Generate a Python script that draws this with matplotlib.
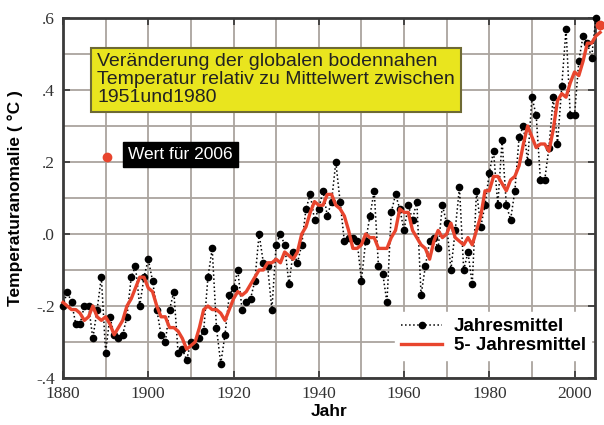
import matplotlib
matplotlib.use("Agg")
import matplotlib.pyplot as plt
from matplotlib.ticker import MultipleLocator
from matplotlib.lines import Line2D

# annual means 1880-2005 (deg C, relative to 1951-1980)
years = list(range(1880, 2006))
annual = [
    -0.20, -0.16, -0.19, -0.25, -0.25, -0.20, -0.20, -0.29, -0.21, -0.12,
    -0.33, -0.23, -0.28, -0.29, -0.28, -0.23, -0.12, -0.09, -0.20, -0.12,
    -0.07, -0.13, -0.21, -0.28, -0.30, -0.21, -0.16, -0.33, -0.32, -0.35,
    -0.30, -0.31, -0.29, -0.27, -0.12, -0.04, -0.26, -0.36, -0.28, -0.17,
    -0.15, -0.10, -0.21, -0.19, -0.18, -0.13, 0.00, -0.08, -0.09, -0.21,
    -0.03, 0.00, -0.03, -0.14, -0.05, -0.08, -0.03, 0.07, 0.11, 0.04,
    0.07, 0.12, 0.05, 0.09, 0.20, 0.09, -0.02, -0.01, -0.01, -0.02,
    -0.13, -0.02, 0.05, 0.12, -0.09, -0.11, -0.19, 0.06, 0.11, 0.07,
    0.01, 0.08, 0.04, 0.09, -0.17, -0.09, -0.02, -0.01, -0.04, 0.08,
    0.03, -0.10, 0.01, 0.13, -0.10, -0.05, -0.14, 0.12, 0.02, 0.08,
    0.17, 0.23, 0.08, 0.26, 0.08, 0.04, 0.12, 0.27, 0.30, 0.20,
    0.38, 0.33, 0.15, 0.15, 0.24, 0.38, 0.25, 0.41, 0.57, 0.33,
    0.33, 0.48, 0.55, 0.53, 0.49, 0.60,
]

# 5-year mean 1880-2006
mean5_years = list(range(1880, 2007))
mean5 = [
    -0.19, -0.20, -0.21, -0.21, -0.22, -0.24, -0.23, -0.20, -0.23, -0.24,
    -0.23, -0.25, -0.28, -0.26, -0.24, -0.20, -0.18, -0.15, -0.12, -0.12,
    -0.15, -0.16, -0.20, -0.23, -0.23, -0.26, -0.26, -0.27, -0.29, -0.32,
    -0.31, -0.30, -0.26, -0.21, -0.20, -0.21, -0.21, -0.22, -0.24, -0.21,
    -0.18, -0.16, -0.17, -0.16, -0.14, -0.12, -0.10, -0.10, -0.08, -0.08,
    -0.07, -0.08, -0.05, -0.06, -0.07, -0.05, 0.00, 0.02, 0.06, 0.09,
    0.08, 0.08, 0.11, 0.11, 0.08, 0.07, 0.05, 0.01, -0.04, -0.04,
    -0.03, 0.00, -0.01, -0.01, -0.04, -0.04, -0.04, -0.01, 0.01, 0.07,
    0.06, 0.06, 0.01, -0.01, -0.03, -0.04, -0.07, -0.02, 0.01, -0.01,
    0.00, 0.03, -0.01, -0.02, -0.03, -0.01, -0.03, 0.01, 0.05, 0.12,
    0.12, 0.16, 0.16, 0.14, 0.12, 0.15, 0.16, 0.19, 0.25, 0.30,
    0.27, 0.24, 0.25, 0.25, 0.23, 0.29, 0.37, 0.39, 0.38, 0.42,
    0.45, 0.44, 0.48, 0.53, 0.53, 0.55, 0.56,
]

year_2006 = 2006
value_2006 = 0.58

x_ticks = [1880, 1900, 1920, 1940, 1960, 1980, 2000]
y_ticks = [-0.4, -0.2, 0.0, 0.2, 0.4, 0.6]
y_tick_labels = ["-.4", "-.2", ".0", ".2", ".4", ".6"]

box_text = ("Veränderung der globalen bodennahen\n"
            "Temperatur relativ zu Mittelwert zwischen\n"
            "1951und1980")
label_2006 = "Wert für 2006"
legend_labels = ["Jahresmittel", "5- Jahresmittel"]

red = "#e8452e"
grid_col = "#aaa49e"

plt.rcParams["font.family"] = ["Liberation Sans", "DejaVu Sans"]

fig = plt.figure(figsize=(6.04, 4.25), dpi=100)
ax = fig.add_axes([63 / 604, 47 / 425, 532 / 604, 360 / 425])

ax.plot(years, annual, color="black", linestyle=":", linewidth=1.1,
        marker="o", markersize=4.5, clip_on=False, zorder=3)
ax.plot(mean5_years, mean5, color=red, linewidth=2.4, clip_on=False, zorder=4)
ax.plot([year_2006], [value_2006], "o", color=red, markersize=6,
        clip_on=False, zorder=5)

ax.set_xlim(1880, 2004.8)
ax.set_ylim(-0.4, 0.6)
ax.set_xticks(x_ticks)
ax.set_yticks(y_ticks)
ax.set_yticklabels(y_tick_labels)
ax.xaxis.set_minor_locator(MultipleLocator(10))
ax.yaxis.set_minor_locator(MultipleLocator(0.1))
ax.grid(True, which="both", color=grid_col, linewidth=1.3)
ax.set_axisbelow(True)

ax.tick_params(which="major", direction="in", length=5, width=1.2,
               top=True, right=True, colors="#333333", pad=6)
ax.tick_params(which="minor", length=0, top=True, right=True)
for lab in ax.get_xticklabels() + ax.get_yticklabels():
    lab.set_fontfamily("Liberation Serif")
    lab.set_fontsize(12.5)
    lab.set_color("#333333")
for sp in ax.spines.values():
    sp.set_linewidth(2.0)
    sp.set_color("#3a3a3a")

ax.set_xlabel("Jahr", fontsize=12.5, fontweight="bold", labelpad=1)
ax.set_ylabel("Temperaturanomalie ( °C )", fontsize=12.5, fontweight="bold",
              labelpad=9)

ax.text(0.064, 0.828, box_text, transform=ax.transAxes, fontsize=14,
        va="center", ha="left", linespacing=1.08, color="#222222",
        bbox=dict(boxstyle="square,pad=0.3", facecolor="#e9e51e",
                  edgecolor="#6e6a34", linewidth=1.5), zorder=6)

ax.plot([0.083], [0.614], "o", color=red, markersize=6,
        transform=ax.transAxes, zorder=6)
ax.text(0.122, 0.621, label_2006, transform=ax.transAxes, fontsize=12.5,
        va="center", ha="left", color="white",
        bbox=dict(boxstyle="square,pad=0.3", facecolor="black",
                  edgecolor="black"), zorder=6)

handles = [
    Line2D([], [], color="black", linestyle=":", linewidth=1.1,
           marker="o", markersize=4.5, markevery=[1]),
    Line2D([], [], color=red, linewidth=2.4),
]
leg = ax.legend(handles, legend_labels, loc="lower right",
                bbox_to_anchor=(1.0, 0.04), frameon=True, fancybox=False,
                framealpha=1, facecolor="white", edgecolor="white",
                handlelength=2.2, handletextpad=0.6, labelspacing=0.1,
                borderaxespad=0.2, borderpad=0.3,
                prop={"weight": "bold", "size": 13.5})
leg.set_zorder(7)

fig.savefig("out.png", dpi=100, facecolor="white")
